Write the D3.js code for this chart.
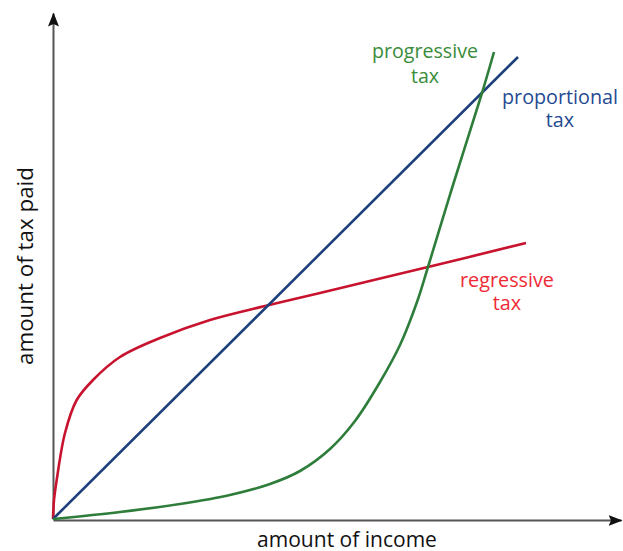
<!DOCTYPE html>
<html>
<head>
<meta charset="utf-8">
<script src="https://cdn.jsdelivr.net/npm/d3@7"></script>
<style>
  html, body { margin: 0; padding: 0; background: #fff; }
  svg { display: block; }
  text { font-family: "Open Sans", "Noto Sans", sans-serif; }
</style>
</head>
<body>
<svg id="chart" width="623" height="551"></svg>
<script>
// ---- data (income units 0-100, tax units 0-100) ----
const proportionalIncome = [0, 93];
const proportionalTax    = [0, 92.4];

const regressiveIncome = [0, 0.2, 0.74, 2.4, 4.74, 8, 13.4, 21.4, 31.4, 42.4, 53.4, 75, 94.6];
const regressiveTax    = [0, 3.8, 7.8, 17.2, 23.8, 27.8, 32.4, 36.2, 39.8, 42.6, 45.2, 50.4, 55.2];

const progressiveIncome = [0, 13.4, 25.4, 35.4, 43.4, 49.4, 55.4, 60.4, 65.4, 69.4, 72.8, 75, 80, 85.8, 88.2];
const progressiveTax    = [0, 1.4, 3, 4.8, 7, 9.6, 14, 19.6, 27.4, 34.8, 43.4, 50.4, 66.8, 85.2, 93.4];

const seriesNames = ["proportional", "regressive", "progressive"];
const labelLines = {
  progressive: ["progressive", "tax"],
  proportional: ["proportional", "tax"],
  regressive: ["regressive", "tax"]
};
const xAxisTitle = "amount of income";
const yAxisTitle = "amount of tax paid";
const axisMax = { x: 113.6, y: 101.2 };

// ---- layout ----
const svg = d3.select("#chart");
const x = d3.scaleLinear().domain([0, 100]).range([53, 553]);
const y = d3.scaleLinear().domain([0, 100]).range([519, 19]);

const colors = {
  proportional: "#1d3f7a",
  regressive: "#c8132f",
  progressive: "#2e7d3a"
};
const textColors = {
  proportional: "#1f4a92",
  regressive: "#ee2a36",
  progressive: "#3a8c3a"
};

// fit a text element's font size so its width matches a target width
function fitWidth(sel, target) {
  const node = sel.node();
  const w = node.getComputedTextLength();
  const fs = parseFloat(sel.attr("font-size"));
  if (w > 0) sel.attr("font-size", (fs * target / w).toFixed(2));
}

// arrow marker
const defs = svg.append("defs");
defs.append("marker")
  .attr("id", "arrow")
  .attr("viewBox", "0 -6 14 12")
  .attr("refX", 13).attr("refY", 0)
  .attr("markerWidth", 14).attr("markerHeight", 12)
  .attr("markerUnits", "userSpaceOnUse")
  .attr("orient", "auto")
  .append("path")
  .attr("d", "M0,-5.5L14,0L0,5.5L2.5,0Z")
  .attr("fill", "#111");

// axes via d3 axis generators (no ticks)
const xAxisScale = d3.scaleLinear().domain([0, axisMax.x]).range([x(0), x(axisMax.x)]);
const yAxisScale = d3.scaleLinear().domain([0, axisMax.y]).range([y(0), y(axisMax.y)]);

const gx = svg.append("g").attr("transform", `translate(0,${y(0) + 1})`)
  .call(d3.axisBottom(xAxisScale).tickValues([]).tickSizeOuter(0));
gx.select(".domain").attr("stroke", "#555").attr("stroke-width", 2).attr("marker-end", "url(#arrow)");

const gy = svg.append("g").attr("transform", `translate(${x(0)},0)`)
  .call(d3.axisLeft(yAxisScale).tickValues([]).tickSizeOuter(0));
gy.select(".domain").attr("stroke", "#555").attr("stroke-width", 2).attr("marker-end", "url(#arrow)");

// lines
const line = d3.line().x(d => x(d[0])).y(d => y(d[1])).curve(d3.curveCatmullRom.alpha(0.5));
const dataSets = {
  proportional: d3.zip(proportionalIncome, proportionalTax),
  regressive: d3.zip(regressiveIncome, regressiveTax),
  progressive: d3.zip(progressiveIncome, progressiveTax)
};
["regressive", "proportional", "progressive"].forEach(name => {
  svg.append("path")
    .datum(dataSets[name])
    .attr("d", line)
    .attr("fill", "none")
    .attr("stroke", colors[name])
    .attr("stroke-width", 2.6)
    .attr("stroke-linejoin", "round");
});

// labels (positions in px): [centerX, baseline1, baseline2, width of first line]
const labelPos = {
  progressive: [425, 58, 83, 106],
  proportional: [560, 104, 127, 116],
  regressive: [507, 287, 310, 94]
};
seriesNames.forEach(name => {
  const p = labelPos[name];
  const first = svg.append("text")
    .attr("x", p[0]).attr("y", p[1])
    .attr("text-anchor", "middle")
    .attr("fill", textColors[name])
    .attr("font-size", 18)
    .text(labelLines[name][0]);
  fitWidth(first, p[3]);
  svg.append("text")
    .attr("x", p[0]).attr("y", p[2])
    .attr("text-anchor", "middle")
    .attr("fill", textColors[name])
    .attr("font-size", first.attr("font-size"))
    .text(labelLines[name][1]);
});

// axis titles
const xt = svg.append("text")
  .attr("x", 347).attr("y", 547)
  .attr("text-anchor", "middle")
  .attr("fill", "#111")
  .attr("font-size", 18)
  .text(xAxisTitle);
fitWidth(xt, 180);

const yt = svg.append("text")
  .attr("transform", "translate(33,266) rotate(-90)")
  .attr("text-anchor", "middle")
  .attr("fill", "#111")
  .attr("font-size", 18)
  .text(yAxisTitle);
fitWidth(yt, 198);
</script>
</body>
</html>
